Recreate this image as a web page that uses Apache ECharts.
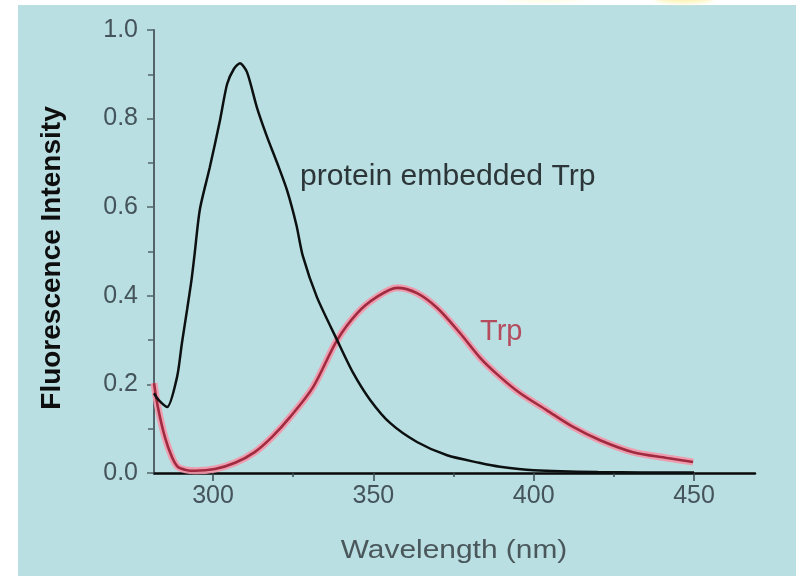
<!DOCTYPE html>
<html>
<head>
<meta charset="utf-8">
<script src="https://cdn.jsdelivr.net/npm/echarts@6/dist/echarts.min.js"></script>
<style>
html,body{margin:0;padding:0;background:#ffffff;}
#wrap{position:relative;width:796px;height:576px;overflow:hidden;background:#ffffff;}
#bg{position:absolute;left:18px;top:5px;right:0;bottom:0;background:#b9dfe2;}
#glow1{position:absolute;left:655px;top:-7px;width:58px;height:10px;border-radius:50%;background:#fff3b0;filter:blur(2px);}
#glow2{position:absolute;left:505px;top:-8px;width:80px;height:10px;border-radius:50%;background:#fffbe0;filter:blur(2px);}
#c{position:absolute;left:0;top:0;width:796px;height:576px;}
</style>
</head>
<body>
<div id="wrap"><div id="bg"></div><div id="glow2"></div><div id="glow1"></div><div id="c"></div></div>
<script>
// ---- data ----
const xTickValues = [300, 350, 400, 450];
const xMinorTickValues = [325, 375, 425];
const yTickValues = [0, 0.2, 0.4, 0.6, 0.8, 1.0];

const proteinWavelength = [281.6, 283.0, 285.7, 288.8, 290.3, 291.9, 293.3, 294.2, 295.9, 299.0, 302.2, 304.4, 306.5, 308.4, 310.6, 313.7, 316.8, 320.0, 323.0, 326.0, 328.0, 332.4, 338.7, 343.7, 349.0, 355.2, 363.6, 373.0, 383.0, 389.5, 400.0, 420.0, 450.0];
const proteinIntensity  = [0.180, 0.165, 0.149, 0.217, 0.293, 0.368, 0.436, 0.490, 0.595, 0.690, 0.797, 0.878, 0.912, 0.925, 0.905, 0.825, 0.760, 0.700, 0.640, 0.560, 0.490, 0.397, 0.300, 0.226, 0.165, 0.113, 0.070, 0.040, 0.023, 0.014, 0.006, 0.002, 0.001];

const trpWavelength = [281.6, 282.8, 285.0, 287.2, 289.0, 291.5, 294.4, 300.6, 306.9, 313.0, 318.5, 324.0, 331.2, 338.7, 345.0, 351.0, 357.4, 363.6, 370.0, 377.0, 383.3, 389.5, 395.8, 404.0, 412.3, 420.7, 431.0, 441.6, 449.7];
const trpIntensity  = [0.203, 0.149, 0.081, 0.036, 0.014, 0.007, 0.005, 0.009, 0.023, 0.047, 0.082, 0.126, 0.194, 0.300, 0.361, 0.397, 0.418, 0.406, 0.372, 0.316, 0.260, 0.217, 0.180, 0.142, 0.104, 0.074, 0.047, 0.034, 0.025];

const xName = 'Wavelength (nm)';
const yName = 'Fluorescence Intensity';
const proteinLabel = 'protein embedded Trp';
const trpLabel = 'Trp';

const zip = (xs, ys) => xs.map((x, i) => [x, ys[i]]);

const FONT = '"Liberation Sans", Arial, sans-serif';
const chart = echarts.init(document.getElementById('c'), null, {renderer: 'canvas'});

const option = {
  backgroundColor: 'transparent',
  animation: false,
  grid: {left: 154, top: 30, width: 601, height: 443, containLabel: false},
  xAxis: [{
    type: 'value', min: 281.6, max: 469, position: 'bottom',
    axisLine: {show: true, onZero: false, lineStyle: {color: '#0a0a0a', width: 2.5}},
    axisTick: {show: true, customValues: xTickValues, length: 8, lineStyle: {color: '#3a4a4e', width: 1.5}},
    axisLabel: {show: true, customValues: xTickValues, fontSize: 25, fontFamily: FONT, color: '#44545a', margin: 11},
    splitLine: {show: false}
  }, {
    type: 'value', min: 281.6, max: 469, position: 'bottom',
    axisLine: {show: false},
    axisTick: {show: true, customValues: xMinorTickValues, length: 4, lineStyle: {color: '#3a4a4e', width: 1.5}},
    axisLabel: {show: false},
    splitLine: {show: false}
  }],
  yAxis: {
    type: 'value', min: 0, max: 1, interval: 0.2,
    axisLine: {show: true, onZero: false, lineStyle: {color: '#52646a', width: 2}},
    axisTick: {show: true, length: 7, lineStyle: {color: '#52646a', width: 1.5}},
    minorTick: {show: true, splitNumber: 2, length: 6, lineStyle: {color: '#52646a', width: 1.5}},
    axisLabel: {fontSize: 25, fontFamily: FONT, color: '#44545a', margin: 16,
      formatter: v => (yTickValues.some(t => Math.abs(t - v) < 1e-9) ? v.toFixed(1) : '')},
    splitLine: {show: false}
  },
  series: [{
    name: 'Trp halo', type: 'line', data: zip(trpWavelength, trpIntensity),
    showSymbol: false, smooth: 0.3, silent: true, z: 2,
    lineStyle: {color: 'rgba(244,150,170,0.9)', width: 7}
  }, {
    name: 'Trp', type: 'line', data: zip(trpWavelength, trpIntensity),
    showSymbol: false, smooth: 0.3, z: 3,
    lineStyle: {color: '#a02a40', width: 2.6}
  }, {
    name: 'protein embedded Trp', type: 'line', data: zip(proteinWavelength, proteinIntensity),
    showSymbol: false, smooth: 0.25, z: 4,
    lineStyle: {color: '#0d1010', width: 2.5}
  }],
  graphic: [{
    type: 'text', x: 52, y: 258, rotation: Math.PI / 2,
    style: {text: yName, fontSize: 28, fontWeight: 'bold', fontFamily: FONT, fill: '#0e0e0e',
      textAlign: 'center', textVerticalAlign: 'middle', align: 'center', verticalAlign: 'middle'}
  }, {
    type: 'text', x: 454, y: 551, scaleX: 1.15,
    style: {text: xName, fontSize: 26, fontFamily: FONT, fill: '#4a585c',
      textAlign: 'center', textVerticalAlign: 'middle', align: 'center', verticalAlign: 'middle'}
  }, {
    type: 'text', x: 300, y: 177, scaleX: 1.04,
    style: {text: proteinLabel, fontSize: 29, fontFamily: FONT, fill: '#2c3638',
      textAlign: 'left', textVerticalAlign: 'middle', align: 'left', verticalAlign: 'middle'}
  }, {
    type: 'text', x: 480, y: 332,
    style: {text: trpLabel, fontSize: 29, fontFamily: FONT, fill: '#b44c5e',
      textAlign: 'left', textVerticalAlign: 'middle', align: 'left', verticalAlign: 'middle'}
  }]
};
chart.setOption(option);
</script>
</body>
</html>
